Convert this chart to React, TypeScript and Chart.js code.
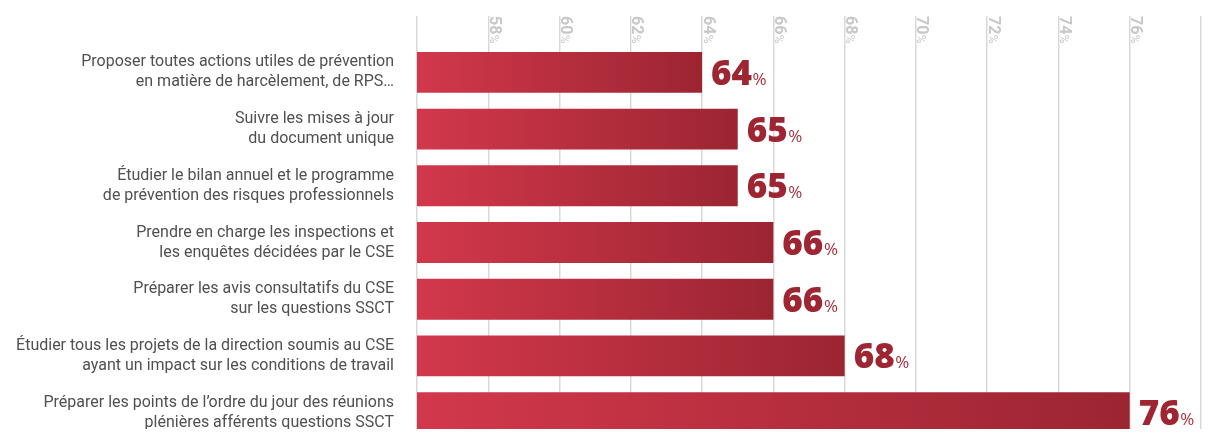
import React, { useEffect, useRef } from "react";
import { Chart, registerables } from "chart.js";

Chart.register(...registerables);

const categories: string[][] = [
  ["Proposer toutes actions utiles de prévention", "en matière de harcèlement, de RPS…"],
  ["Suivre les mises à jour", "du document unique"],
  ["Étudier le bilan annuel et le programme", "de prévention des risques professionnels"],
  ["Prendre en charge les inspections et", "les enquêtes décidées par le CSE"],
  ["Préparer les avis consultatifs du CSE", "sur les questions SSCT"],
  ["Étudier tous les projets de la direction soumis au CSE", "ayant un impact sur les conditions de travail"],
  ["Préparer les points de l’ordre du jour des réunions", "plénières afférents questions SSCT"],
];
const values: number[] = [64, 65, 65, 66, 66, 68, 76];
const axisMin = 56;
const axisMax = 78;
const axisStep = 2;

const valueLabelPlugin = {
  id: "valueLabels",
  afterDatasetsDraw(chart: any) {
    const ctx = chart.ctx;
    const meta = chart.getDatasetMeta(0);
    ctx.save();
    meta.data.forEach((bar: any, i: number) => {
      const num = String(values[i]);
      const x = bar.x + 9;
      const y = bar.y + 12.5;
      ctx.textBaseline = "alphabetic";
      ctx.textAlign = "left";
      ctx.fillStyle = "#9e2633";
      ctx.font = "800 35px 'Open Sans', Lato, sans-serif";
      ctx.fillText(num, x, y);
      const w = ctx.measureText(num).width;
      ctx.fillStyle = "#a8303d";
      ctx.font = "normal 17px 'Open Sans', Lato, sans-serif";
      ctx.fillText("%", x + w + 0.5, y);
    });
    ctx.restore();
  },
};

const topTicksPlugin = {
  id: "topTicks",
  afterDraw(chart: any) {
    const scale = chart.scales.x;
    const ctx = chart.ctx;
    ctx.save();
    ctx.fillStyle = "#c8c8c8";
    scale.ticks.forEach((t: any) => {
      if (t.value === axisMin) return;
      const x = scale.getPixelForValue(t.value);
      ctx.save();
      ctx.translate(x, scale.top);
      ctx.rotate(Math.PI / 2);
      ctx.textAlign = "left";
      ctx.textBaseline = "alphabetic";
      ctx.font = "bold 16px Roboto, sans-serif";
      const s = String(t.value);
      ctx.fillText(s, 0, -1.5);
      const w = ctx.measureText(s).width;
      ctx.font = "normal 12px Roboto, sans-serif";
      ctx.fillText("%", w + 0.5, -1.5);
      ctx.restore();
    });
    ctx.restore();
  },
};

export default function App() {
  const ref = useRef<HTMLCanvasElement>(null);
  useEffect(() => {
    if (!ref.current) return;
    const chart = new Chart(ref.current, {
      type: "bar",
      data: {
        labels: categories,
        datasets: [
          {
            data: values,
            backgroundColor: (c: any) => {
              const ch = c.chart;
              const xs = ch.scales?.x;
              if (!ch.chartArea || !xs) return "#c0303f";
              const x0 = xs.getPixelForValue(axisMin);
              const x1 = xs.getPixelForValue(values[c.dataIndex] ?? axisMax);
              const g = ch.ctx.createLinearGradient(x0, 0, x1, 0);
              g.addColorStop(0, "#d2384b");
              g.addColorStop(1, "#9c2532");
              return g;
            },
            borderWidth: 0,
            barPercentage: 0.72,
            categoryPercentage: 1,
          },
        ],
      },
      options: {
        indexAxis: "y",
        animation: false,
        responsive: false,
        layout: { padding: { top: 8, right: 9, bottom: 4, left: 0 } },
        plugins: { legend: { display: false }, tooltip: { enabled: false } },
        scales: {
          x: {
            position: "top",
            min: axisMin,
            max: axisMax,
            ticks: { stepSize: axisStep, display: false, maxTicksLimit: 20, autoSkip: false },
            grid: { color: "#d9d9d9", lineWidth: 1.5, drawTicks: true, tickLength: 28 },
            border: { display: false },
          },
          y: {
            afterFit: (s: any) => {
              s.width = 409;
              s.paddingTop = 0;
              s.paddingBottom = 0;
            },
            ticks: {
              padding: 15,
              color: "#505050",
              font: { family: "Roboto, sans-serif", size: 16, lineHeight: 1.25 },
            },
            grid: { display: false },
            border: { display: false },
          },
        },
      },
      plugins: [valueLabelPlugin, topTicksPlugin],
    });
    return () => chart.destroy();
  }, []);
  return (
    <div style={{ width: 1194, height: 429, overflow: "hidden", marginBottom: -8, paddingRight: 0 }}>
      <div style={{ width: 1202 }}>
        <canvas ref={ref} width={1202} height={437} style={{ display: "block" }} />
      </div>
    </div>
  );
}
